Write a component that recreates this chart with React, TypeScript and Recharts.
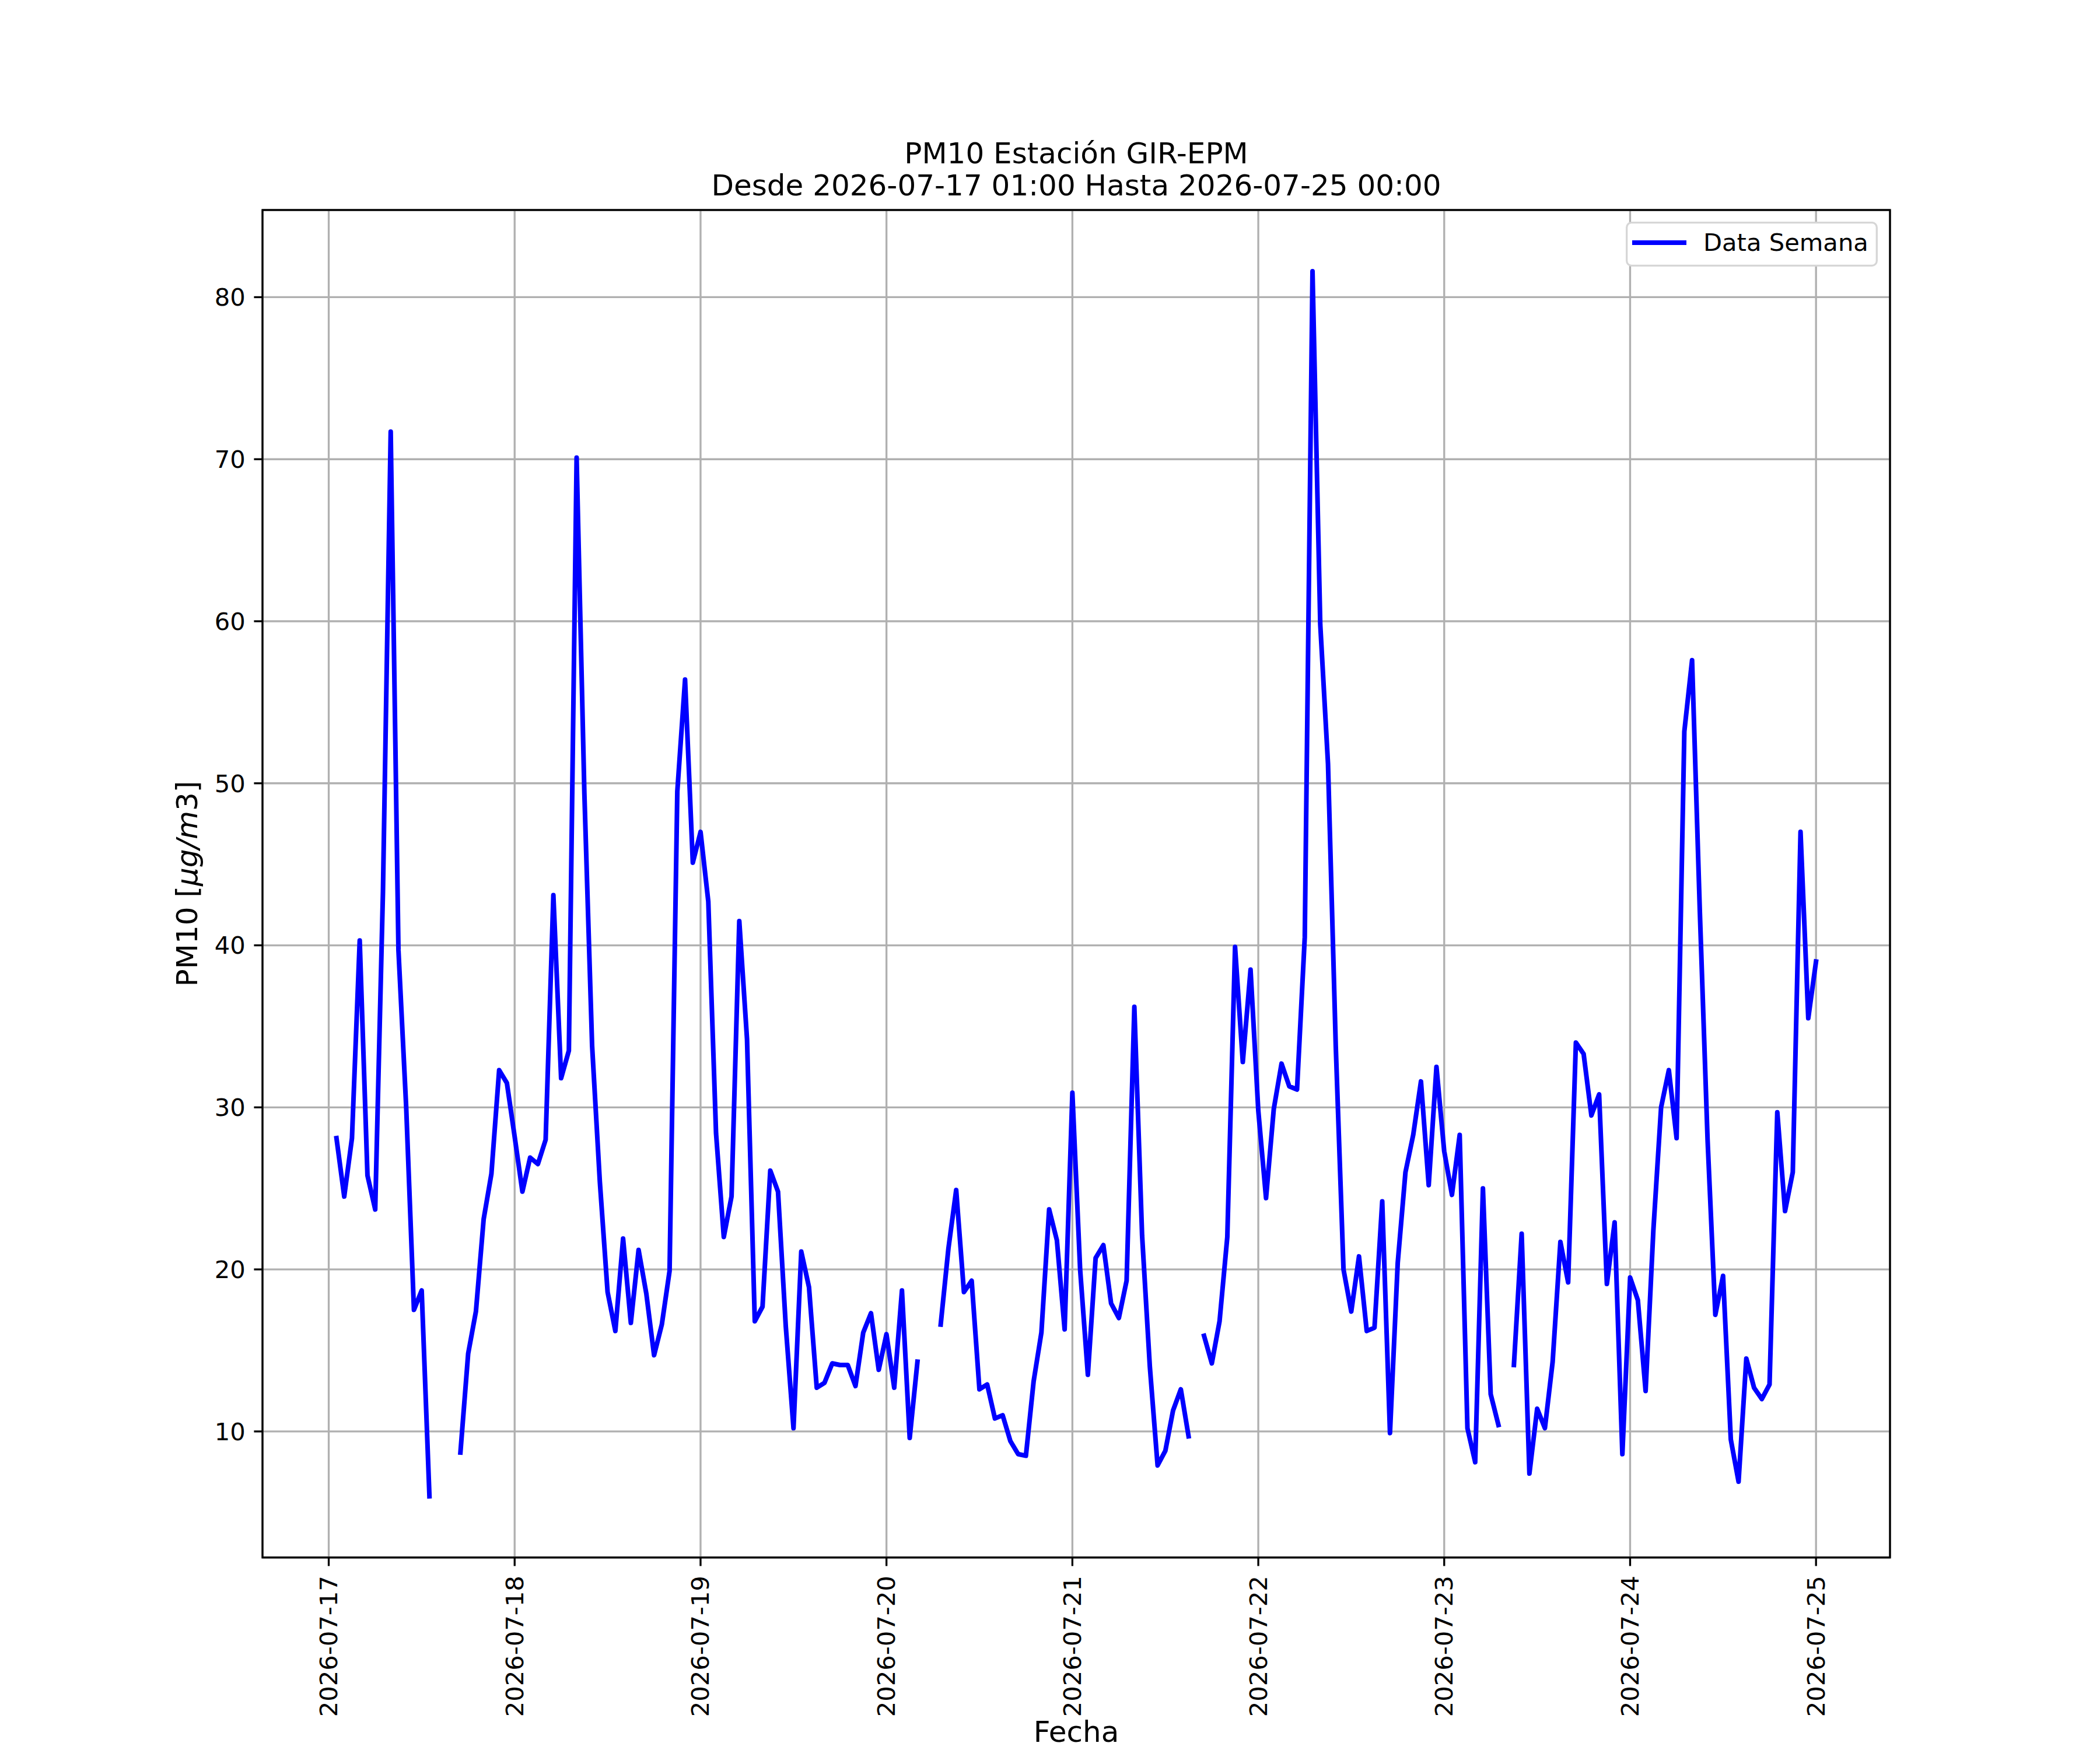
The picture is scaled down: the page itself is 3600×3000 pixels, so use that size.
import { CartesianGrid, Legend, Line, LineChart, XAxis, YAxis } from 'recharts'

const dayLabels = ['2026-07-17', '2026-07-18', '2026-07-19', '2026-07-20', '2026-07-21', '2026-07-22', '2026-07-23', '2026-07-24', '2026-07-25']

// hourly readings, 01:00 of the day through 00:00 of the next one
const pm10Jul17 = [28.1, 24.5, 28.1, 40.3, 25.8, 23.7, 43.3, 71.7, 39.7, 30.0, 17.5, 18.7, 6.0, null, null, null, 8.7, 14.8, 17.4, 23.1, 25.9, 32.3, 31.5, 28.2]
const pm10Jul18 = [24.8, 26.9, 26.5, 28.0, 43.1, 31.8, 33.5, 70.1, 49.4, 33.8, 25.4, 18.6, 16.2, 21.9, 16.7, 21.2, 18.5, 14.7, 16.6, 19.9, 49.5, 56.4, 45.1, 47.0]
const pm10Jul19 = [42.7, 28.4, 22.0, 24.5, 41.5, 34.2, 16.8, 17.7, 26.1, 24.8, 16.5, 10.2, 21.1, 18.9, 12.7, 13.0, 14.2, 14.1, 14.1, 12.8, 16.1, 17.3, 13.8, 16.0]
const pm10Jul20 = [12.7, 18.7, 9.6, 14.3, null, null, 16.6, 21.3, 24.9, 18.6, 19.3, 12.6, 12.9, 10.8, 11.0, 9.4, 8.6, 8.5, 13.1, 16.1, 23.7, 21.8, 16.3, 30.9]
const pm10Jul21 = [20.0, 13.5, 20.7, 21.5, 17.9, 17.0, 19.3, 36.2, 22.1, 14.0, 7.9, 8.8, 11.3, 12.6, 9.7, null, 15.9, 14.2, 16.8, 22.0, 39.9, 32.8, 38.5, 29.8]
const pm10Jul22 = [24.4, 29.9, 32.7, 31.3, 31.1, 40.5, 81.6, 59.8, 51.2, 33.8, 20.0, 17.4, 20.8, 16.2, 16.4, 24.2, 9.9, 20.4, 26.0, 28.3, 31.6, 25.2, 32.5, 27.3]
const pm10Jul23 = [24.6, 28.3, 10.2, 8.1, 25.0, 12.3, 10.4, null, 14.1, 22.2, 7.4, 11.4, 10.2, 14.3, 21.7, 19.2, 34.0, 33.3, 29.5, 30.8, 19.1, 22.9, 8.6, 19.5]
const pm10Jul24 = [18.1, 12.5, 22.4, 30.0, 32.3, 28.1, 53.2, 57.6, 42.1, 28.0, 17.2, 19.6, 9.5, 6.9, 14.5, 12.7, 12.0, 12.9, 29.7, 23.6, 26.0, 47.0, 35.5, 39.0]

const yTicks = [10, 20, 30, 40, 50, 60, 70, 80]

const dayBlocks = [pm10Jul17, pm10Jul18, pm10Jul19, pm10Jul20, pm10Jul21, pm10Jul22, pm10Jul23, pm10Jul24]

const rows = dayBlocks.flatMap((block, day) => block.map((value, i) => ({ hour: day * 24 + i + 1, pm10: value })))
const dayTicks = dayLabels.map((_, i) => i * 24)

const present = rows.map((r) => r.pm10).filter((v): v is number => v !== null)
const yMin = Math.min(...present)
const yMax = Math.max(...present)
const yPad = (yMax - yMin) * 0.05
const xFirst = rows[0].hour
const xLast = rows[rows.length - 1].hour
const xPad = (xLast - xFirst) * 0.05

const PT = 300 / 72
const FONT = '"DejaVu Sans", sans-serif'
const W = 3600
const H = 3000
const LEFT = 450
const RIGHT = 3240
const TOP = 360
const BOTTOM = 2670

function DateTick(props: any) {
  const { x, y, payload } = props
  const label = dayLabels[Math.round(payload.value / 24)]
  return (
    <text
      x={x}
      y={y}
      transform={`rotate(-90 ${x} ${y})`}
      textAnchor="end"
      dominantBaseline="central"
      fontFamily={FONT}
      fontSize={10 * PT}
      fill="#000"
    >
      {label}
    </text>
  )
}

function LegendBox(props: any) {
  const entries = props.payload ?? []
  return (
    <svg width={432} height={77} style={{ display: 'block' }}>
      <rect x={1.7} y={1.7} width={428.6} height={73.6} rx={8} fill="#fff" stroke="#d6d6d6" strokeWidth={3.3} />
      {entries.map((entry: any) => (
        <g key={entry.value}>
          <line x1={11} x2={104} y1={36} y2={36} stroke={entry.color} strokeWidth={8} strokeLinecap="butt" />
          <text x={133} y={50} fontFamily={FONT} fontSize={10 * PT} fill="#000">
            {entry.value}
          </text>
        </g>
      ))}
    </svg>
  )
}

export default function App() {
  return (
    <div style={{ position: 'absolute', left: 0, top: 0, width: W, height: H, background: '#fff' }}>
      <LineChart width={W} height={H} data={rows} margin={{ top: TOP, right: W - RIGHT, left: 0, bottom: 0 }}>
        <CartesianGrid stroke="#b0b0b0" strokeWidth={0.8 * PT} />
        <XAxis
          dataKey="hour"
          type="number"
          domain={[xFirst - xPad, xLast + xPad]}
          ticks={dayTicks}
          interval={0}
          height={H - BOTTOM}
          axisLine={false}
          tickSize={3.5 * PT}
          tickMargin={3.5 * PT + 2}
          tickLine={{ stroke: '#000', strokeWidth: 0.8 * PT }}
          tick={DateTick}
        />
        <YAxis
          type="number"
          domain={[yMin - yPad, yMax + yPad]}
          allowDataOverflow
          ticks={yTicks}
          interval={0}
          width={LEFT}
          axisLine={false}
          tickSize={3.5 * PT}
          tickMargin={3.5 * PT}
          tickLine={{ stroke: '#000', strokeWidth: 0.8 * PT }}
          tick={{ fontFamily: FONT, fontSize: 10 * PT, fill: '#000' }}
        />
        <Legend
          layout="vertical"
          align="center"
          verticalAlign="middle"
          content={LegendBox}
          wrapperStyle={{ left: 2787, top: 380, width: 432, height: 77, margin: 0 }}
        />
        <Line
          dataKey="pm10"
          name="Data Semana"
          stroke="#0000ff"
          strokeWidth={8}
          strokeLinejoin="round"
          strokeLinecap="square"
          dot={false}
          activeDot={false}
          connectNulls={false}
          isAnimationActive={false}
        />
      </LineChart>
      <svg width={W} height={H} style={{ position: 'absolute', left: 0, top: 0, pointerEvents: 'none' }}>
        <rect x={LEFT} y={TOP} width={RIGHT - LEFT} height={BOTTOM - TOP} fill="none" stroke="#000" strokeWidth={0.8 * PT} />
        <g fontFamily={FONT} fontSize={12 * PT} fill="#000" textAnchor="middle">
          <text x={(LEFT + RIGHT) / 2} y={280}>PM10 Estación GIR-EPM</text>
          <text x={(LEFT + RIGHT) / 2} y={335}>Desde 2026-07-17 01:00 Hasta 2026-07-25 00:00</text>
          <text x={(LEFT + RIGHT) / 2} y={2986}>Fecha</text>
          <text x={321} y={(TOP + BOTTOM) / 2} transform={`rotate(-90 321 ${(TOP + BOTTOM) / 2})`} dominantBaseline="central">
            PM10 [<tspan fontStyle="italic">μg/m</tspan>3]
          </text>
        </g>
      </svg>
    </div>
  )
}
